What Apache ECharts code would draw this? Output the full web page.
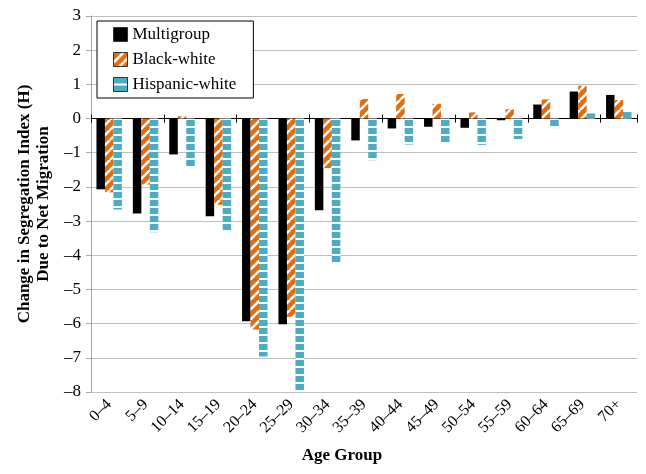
<!DOCTYPE html>
<html><head><meta charset="utf-8">
<script src="https://cdn.jsdelivr.net/npm/echarts@6/dist/echarts.min.js"></script>
<style>html,body{margin:0;padding:0;background:#fff}#c{width:646px;height:474px}</style>
</head><body><div id="c"></div>
<script>
const categories = ['0–4','5–9','10–14','15–19','20–24','25–29','30–34','35–39','40–44','45–49','50–54','55–59','60–64','65–69','70+'];
const seriesNames = ['Multigroup','Black-white','Hispanic-white'];
const multigroup = [-2.07, -2.78, -1.05, -2.86, -5.93, -6.02, -2.68, -0.64, -0.29, -0.24, -0.27, -0.05, 0.41, 0.79, 0.69];
const blackWhite = [-2.16, -1.93, 0.07, -2.52, -6.17, -5.80, -1.45, 0.57, 0.72, 0.43, 0.18, 0.27, 0.56, 0.96, 0.54];
const hispanicWhite = [-2.66, -3.33, -1.40, -3.27, -6.96, -7.94, -4.22, -1.22, -0.76, -0.69, -0.77, -0.60, -0.28, 0.15, 0.19];
const yMin = -8, yMax = 3, yStep = 1;

const FONT = 'Liberation Serif';
function makeStripe(){
  const s = 10, c = document.createElement('canvas'); c.width = s; c.height = s;
  const g = c.getContext('2d');
  g.fillStyle = '#E46C0A'; g.fillRect(0,0,s,s);
  g.strokeStyle = '#ffffff'; g.lineWidth = 2.5; g.beginPath();
  for (const k of [-s, 0, s]) { g.moveTo(k, s); g.lineTo(k + s, 0); }
  g.stroke();
  return c;
}
function makeHoriz(){
  const w = 8, h = 8, c = document.createElement('canvas'); c.width = w; c.height = h;
  const g = c.getContext('2d');
  g.fillStyle = '#4BACC6'; g.fillRect(0,0,w,h);
  g.fillStyle = '#ffffff'; g.fillRect(0,6,w,2);
  return c;
}
const colors = ['#000000', {image: makeStripe(), repeat: 'repeat'}, {image: makeHoriz(), repeat: 'repeat'}];
const values = [multigroup, blackWhite, hispanicWhite];

const chart = echarts.init(document.getElementById('c'), null, {renderer: 'canvas'});
chart.setOption({
  animation: false,
  textStyle: {fontFamily: FONT},
  grid: {left: 91, right: 9, top: 16, bottom: 82},
  legend: {
    data: seriesNames, orient: 'vertical', left: 97, top: 21,
    itemWidth: 14, itemHeight: 14, itemGap: 8,
    padding: [5, 17, 5, 16],
    borderColor: '#000', borderWidth: 1, backgroundColor: '#fff',
    icon: 'rect',
    itemStyle: {borderColor: '#333', borderWidth: 1},
    textStyle: {fontSize: 17, fontFamily: FONT, color: '#000'}
  },
  xAxis: [
    {type: 'category', data: categories, position: 'bottom',
     axisLine: {show: false, onZero: false}, axisTick: {show: false},
     axisLabel: {rotate: 45, margin: 10, fontSize: 16, color: '#000', fontFamily: FONT, interval: 0},
     name: 'Age Group', nameLocation: 'middle', nameGap: 55,
     nameTextStyle: {fontWeight: 'bold', fontSize: 17, color: '#000', fontFamily: FONT, padding: [0, 44, 0, 0]}},
    {type: 'category', data: categories, position: 'bottom',
     axisLine: {show: true, onZero: true, onZeroAxisIndex: 0, lineStyle: {color: '#000', width: 1}},
     axisTick: {show: true, length: 4, lineStyle: {color: '#000'}},
     axisLabel: {show: false}},
    {type: 'category', data: categories, position: 'top',
     axisLine: {show: true, onZero: true, onZeroAxisIndex: 0, lineStyle: {color: '#000', width: 1}},
     axisTick: {show: true, length: 4, lineStyle: {color: '#000'}},
     axisLabel: {show: false}}
  ],
  yAxis: {
    type: 'value', min: yMin, max: yMax, interval: yStep,
    axisLine: {show: true, onZero: false, lineStyle: {color: '#a6a6a6'}},
    axisTick: {show: true, length: 5, lineStyle: {color: '#a6a6a6'}},
    splitLine: {lineStyle: {color: '#bfbfbf'}},
    axisLabel: {margin: 10, fontSize: 17, color: '#000', fontFamily: FONT,
      formatter: v => v < 0 ? '–' + Math.abs(v) : String(v)},
    name: 'Change in Segregation Index (H)\nDue to Net Migration',
    nameLocation: 'middle', nameGap: 38,
    nameTextStyle: {fontWeight: 'bold', fontSize: 17, lineHeight: 19, color: '#000', fontFamily: FONT}
  },
  series: seriesNames.map((n, i) => ({
    name: n, type: 'bar', xAxisIndex: 0, data: values[i],
    barGap: '0%', barCategoryGap: '30%',
    itemStyle: {color: colors[i]}
  }))
});
</script></body></html>
